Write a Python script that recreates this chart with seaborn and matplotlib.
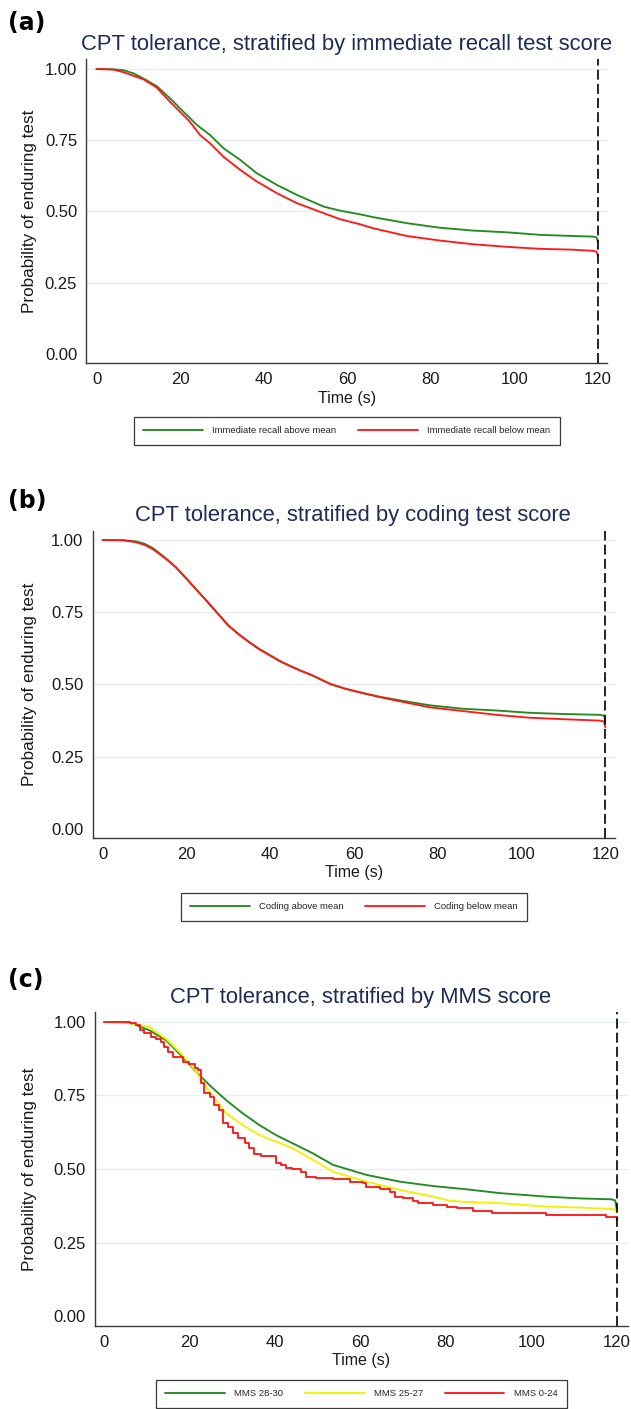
import matplotlib
matplotlib.use("Agg")
import matplotlib.pyplot as plt
from matplotlib.lines import Line2D
import seaborn as sns
import pandas as pd

# ---- data ----
titles = ["CPT tolerance, stratified by immediate recall test score",
          "CPT tolerance, stratified by coding test score",
          "CPT tolerance, stratified by MMS score"]
panel_tags = ["(a)", "(b)", "(c)"]

labels_a = ["Immediate recall above mean", "Immediate recall below mean"]
t_a_above = [0, 4, 6.4, 8.8, 11.2, 14.4, 17.6, 20.8, 24.0, 27.2, 30.4, 34.4, 38.4, 43.2, 48.0,
             54.4, 58.3, 63.1, 66.3, 74.3, 82.2, 90.2, 98.2, 106.2, 114.1, 118.9, 119.7, 120]
s_a_above = [1.0, 0.999, 0.996, 0.985, 0.967, 0.940, 0.897, 0.850, 0.804, 0.768, 0.722, 0.681, 0.634,
             0.593, 0.558, 0.517, 0.503, 0.490, 0.480, 0.459, 0.443, 0.433, 0.427, 0.418, 0.414,
             0.412, 0.409, 0.394]
t_a_below = [0, 4, 6.4, 11.2, 14.4, 17.6, 20.8, 22.4, 24.8, 27.2, 30.4, 34.4, 38.4, 43.2, 48.0,
             54.4, 58.3, 63.1, 66.3, 74.3, 82.2, 90.2, 98.2, 106.2, 114.1, 118.9, 119.7, 120]
s_a_below = [1.0, 0.998, 0.989, 0.964, 0.935, 0.885, 0.838, 0.814, 0.768, 0.739, 0.692, 0.646, 0.605,
             0.564, 0.529, 0.494, 0.473, 0.455, 0.441, 0.414, 0.398, 0.385, 0.376, 0.369, 0.366,
             0.362, 0.359, 0.347]

labels_b = ["Coding above mean", "Coding below mean"]
t_b = [0, 5, 8, 10, 12, 15, 17.5, 20, 22.5, 25, 27.5, 30, 32.5, 35, 37.5, 40, 42.5, 45, 47.5, 50,
       54.3, 58, 62.2, 66, 70.2, 78.1, 86.1, 94.0, 102.0, 109.9, 118.7, 119.7, 120]
s_b_above = [1.0, 0.999, 0.995, 0.987, 0.972, 0.938, 0.906, 0.867, 0.827, 0.787, 0.746, 0.705, 0.674,
             0.647, 0.622, 0.601, 0.580, 0.563, 0.547, 0.532, 0.502, 0.485, 0.470, 0.458, 0.447,
             0.428, 0.416, 0.410, 0.402, 0.398, 0.395, 0.392, 0.375]
s_b_below = [1.0, 0.999, 0.992, 0.983, 0.968, 0.936, 0.905, 0.866, 0.826, 0.786, 0.745, 0.704, 0.673,
             0.646, 0.621, 0.600, 0.579, 0.562, 0.546, 0.532, 0.502, 0.485, 0.470, 0.457, 0.444,
             0.421, 0.408, 0.395, 0.385, 0.380, 0.375, 0.372, 0.352]

labels_c = ["MMS 28-30", "MMS 25-27", "MMS 0-24"]
t_c_high = [0, 5, 6.7, 10.6, 14.5, 18.4, 21.2, 24.7, 28.6, 32.5, 36.4, 40.3, 44.2, 48.9, 53.6,
            61.4, 69.2, 77.0, 84.8, 92.6, 103.5, 111.3, 118.7, 119.6, 120]
s_c_high = [1.0, 0.999, 0.994, 0.972, 0.938, 0.881, 0.836, 0.785, 0.734, 0.689, 0.649, 0.615, 0.587,
            0.553, 0.514, 0.480, 0.457, 0.442, 0.431, 0.418, 0.406, 0.400, 0.397, 0.393, 0.360]
t_c_mid = [0, 5, 6.7, 10.6, 14.5, 18.4, 21.2, 24.7, 28.6, 32.5, 36.4, 40.3, 44.2, 48.9, 53.6,
           61.4, 69.2, 77.0, 80.9, 84.8, 92.6, 103.5, 111.3, 118.7, 119.6, 120]
s_c_mid = [1.0, 0.999, 0.994, 0.983, 0.943, 0.887, 0.838, 0.762, 0.689, 0.649, 0.615, 0.593, 0.570,
           0.531, 0.491, 0.457, 0.429, 0.406, 0.392, 0.388, 0.384, 0.372, 0.369, 0.364, 0.362, 0.352]
t_c_low = [0, 6.1, 7.5, 8.5, 9.4, 11.0, 12.2, 13.3, 14.1, 14.9, 16.1, 18.4, 20.0, 21.2, 21.9, 22.7,
           23.5, 24.7, 25.8, 27.0, 27.8, 29.0, 30.2, 31.3, 32.9, 34.0, 35.2, 36.7, 40.2, 41.4, 42.6,
           44.1, 46.0, 47.3, 49.6, 53.6, 57.5, 60.6, 61.4, 64.5, 66.9, 68.0, 70.0, 72.3, 73.5, 77.0,
           80.2, 82.5, 86.4, 90.8, 103.5, 117.4, 120]
s_c_low = [1.0, 0.995, 0.989, 0.972, 0.963, 0.949, 0.941, 0.932, 0.915, 0.898, 0.881, 0.864, 0.856,
           0.845, 0.836, 0.791, 0.757, 0.745, 0.717, 0.700, 0.655, 0.644, 0.621, 0.604, 0.587, 0.570,
           0.551, 0.543, 0.519, 0.514, 0.502, 0.499, 0.491, 0.474, 0.468, 0.465, 0.457, 0.452, 0.440,
           0.433, 0.423, 0.406, 0.400, 0.392, 0.384, 0.378, 0.372, 0.366, 0.358, 0.351, 0.344, 0.336,
           0.326]

x_ticks = [0, 20, 40, 60, 80, 100, 120]
y_ticks = [0.0, 0.25, 0.5, 0.75, 1.0]
y_tick_labels = ["0.00", "0.25", "0.50", "0.75", "1.00"]

GREEN, RED, YELLOW = "#228b22", "#ff1a1a", "#f2f200"


def long_df(series):
    rows = []
    for name, t, s in series:
        for ti, si in zip(t, s):
            rows.append({"group": name, "time": ti, "surv": si})
    return pd.DataFrame(rows)


panels = [
    dict(df=long_df([(labels_a[0], t_a_above, s_a_above), (labels_a[1], t_a_below, s_a_below)]),
         labels=labels_a, colors=[GREEN, RED], steps=[False, False]),
    dict(df=long_df([(labels_b[0], t_b, s_b_above), (labels_b[1], t_b, s_b_below)]),
         labels=labels_b, colors=[GREEN, RED], steps=[False, False]),
    dict(df=long_df([(labels_c[0], t_c_high, s_c_high), (labels_c[1], t_c_mid, s_c_mid),
                     (labels_c[2], t_c_low, s_c_low)]),
         labels=labels_c, colors=[GREEN, YELLOW, RED], steps=[False, False, True]),
]

# ---- layout (pixels of a 631x1409 canvas) ----
W, H = 631, 1409
# left, right, top, bottom of each axes box
boxes = [(86.4, 607, 59, 363), (92.5, 615.4, 531, 838), (95, 628, 1012, 1326)]
ylims = [(-0.0316, 1.0351), (-0.0311, 1.0311), (-0.034, 1.034)]
xlims = [(-2.42, 122.2), (-2.41, 122.4), (-2.1, 122.6)]
tag_y = [23, 501, 980]
title_y = [50, 521, 1003]
title_x = [346.5, 353, 360.5]
xlabel_pos = [(347, 398), (354, 873), (361, 1361)]
legend_pos = [(346.7, 417), (354, 893), (361.5, 1380)]

sns.set_style("white")
plt.rcParams["font.family"] = ["Liberation Sans", "DejaVu Sans"]

fig = plt.figure(figsize=(W / 100, H / 100), dpi=100)
TXT = "#1a1a1a"
AX = "#3a3a3a"

for i, p in enumerate(panels):
    l, r, t, b = boxes[i]
    ax = fig.add_axes([l / W, 1 - b / H, (r - l) / W, (b - t) / H])
    for yv in y_ticks[1:]:
        ax.axhline(yv, color="#e6eef1", lw=1.0, zorder=0)
    for name, color, step in zip(p["labels"], p["colors"], p["steps"]):
        sub = p["df"][p["df"]["group"] == name]
        sns.lineplot(data=sub, x="time", y="surv", color=color, lw=1.35,
                     estimator=None, legend=False, ax=ax,
                     drawstyle="steps-post" if step else "default", zorder=3)
    ax.axvline(120, color="black", lw=1.2, ls=(0, (6, 2.5)), zorder=4)
    ax.set_xlim(*xlims[i])
    ax.set_ylim(*ylims[i])
    ax.set_xticks(x_ticks)
    ax.set_yticks(y_ticks)
    ax.set_yticklabels(y_tick_labels)
    ax.set_xlabel("")
    ax.set_ylabel("")
    ax.tick_params(axis="both", labelsize=12, length=4.3, width=0.9, color=AX,
                   labelcolor=TXT)
    ax.tick_params(axis="y", pad=2.3)
    ax.tick_params(axis="x", pad=2.5)
    for side in ["top", "right"]:
        ax.spines[side].set_visible(False)
    for side in ["left", "bottom"]:
        ax.spines[side].set_color(AX)
        ax.spines[side].set_linewidth(1.0)

    fig.text(8 / W, 1 - tag_y[i] / H, panel_tags[i], ha="left", va="center",
             fontsize=17, fontweight="bold", family="DejaVu Sans", color="black")
    fig.text(title_x[i] / W, 1 - title_y[i] / H, titles[i], ha="center", va="baseline",
             fontsize=15.8, color="#1e2b55")
    fig.text(30 / W, 1 - (t + b) / 2 / H, "Probability of enduring test", rotation=90,
             ha="center", va="center", fontsize=12.3, color=TXT)
    fig.text(xlabel_pos[i][0] / W, 1 - xlabel_pos[i][1] / H, "Time (s)", ha="center",
             va="center", fontsize=11.5, color=TXT)

    handles = [Line2D([], [], color=c, lw=1.35) for c in p["colors"]]
    leg = ax.legend(handles, p["labels"], loc="upper center",
                    bbox_to_anchor=(legend_pos[i][0] / W, 1 - legend_pos[i][1] / H),
                    bbox_transform=fig.transFigure, ncol=len(p["labels"]), fontsize=6.8,
                    frameon=True, fancybox=False, shadow=False, borderaxespad=0,
                    handlelength=6.3, handletextpad=1.0, columnspacing=2.3, borderpad=1.0)
    leg.get_frame().set_edgecolor(AX)
    leg.get_frame().set_linewidth(0.9)
    leg.get_frame().set_facecolor("white")
    leg.get_frame().set_alpha(1)

fig.savefig("out.png", dpi=100)
